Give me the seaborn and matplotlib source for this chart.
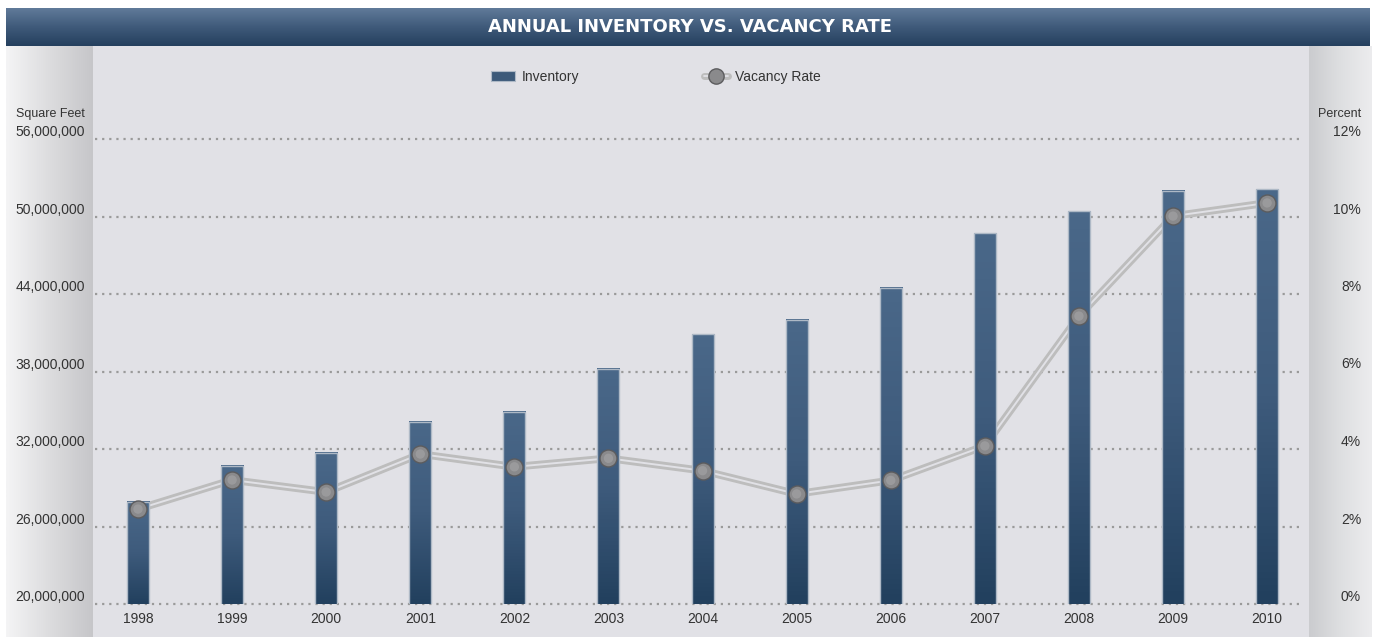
import numpy as np
import pandas as pd
import matplotlib
matplotlib.use('Agg')
import matplotlib.pyplot as plt
import matplotlib.transforms as mtransforms
from matplotlib.patches import Patch, Rectangle
from matplotlib.lines import Line2D
from matplotlib.colors import LinearSegmentedColormap
from matplotlib.legend_handler import HandlerTuple
import seaborn as sns

years = ['1998', '1999', '2000', '2001', '2002', '2003', '2004',
         '2005', '2006', '2007', '2008', '2009', '2010']
inventory = [27.9, 30.7, 31.7, 34.1, 34.9, 38.2, 40.9,
             42.0, 44.5, 48.7, 50.4, 52.0, 52.1]  # millions of sq ft
vacancy = [2.45, 3.2, 2.89, 3.87, 3.54, 3.76, 3.44,
           2.84, 3.19, 4.08, 7.43, 10.01, 10.35]  # percent

left_ticks = [20e6, 26e6, 32e6, 38e6, 44e6, 50e6, 56e6]
left_labels = ['20,000,000', '26,000,000', '32,000,000', '38,000,000',
               '44,000,000', '50,000,000', '56,000,000']
right_ticks = [0, 2, 4, 6, 8, 10, 12]
right_labels = ['0%', '2%', '4%', '6%', '8%', '10%', '12%']

df = pd.DataFrame({'Year': years,
                   'Inventory': np.array(inventory) * 1e6,
                   'Vacancy': vacancy})
df['pos'] = np.arange(len(df))

sns.set_theme(style='white')
plt.rcParams['font.family'] = ['Liberation Sans', 'DejaVu Sans']
txt = '#333333'
plot_bg = '#e1e1e6'
fs = 9.5

W, H = 1377, 637
fig = plt.figure(figsize=(W / 100, H / 100), dpi=100, facecolor='white')

# background panels drawn in pixel coords
bg = fig.add_axes([0, 0, 1, 1], zorder=-5)
bg.axis('off')
bg.add_patch(Rectangle((93, 46), 1216, H - 46, color=plot_bg, lw=0))
left_grad = LinearSegmentedColormap.from_list('lg', ['#f4f4f5', '#dcdcde', '#c6c6c9'])
bg.imshow(np.linspace(0, 1, 64)[None, :], cmap=left_grad, extent=(6, 94, H, 46), aspect='auto')
right_grad = LinearSegmentedColormap.from_list('rg', ['#cbcccf', '#dedfe1', '#ececee'])
bg.imshow(np.linspace(0, 1, 64)[None, :], cmap=right_grad, extent=(1309, 1372, H, 46), aspect='auto')
title_grad = LinearSegmentedColormap.from_list('tg', ['#607a99', '#3f5a7a', '#25405e'])
bg.imshow(np.linspace(0, 1, 64)[:, None], cmap=title_grad, extent=(6, 1370, 46, 8), aspect='auto')
bg.set_xlim(0, W)
bg.set_ylim(H, 0)

ax_l, ax_r = 95, 1301
ax_top, ax_bot = 139, 604
rect = [ax_l / W, 1 - ax_bot / H, (ax_r - ax_l) / W, (ax_bot - ax_top) / H]
xlo, xhi = -0.457, 12.36

# right scale axis: gridlines and vacancy line (behind bars)
ax2 = fig.add_axes(rect, zorder=1)
ax2.patch.set_visible(False)
ax2.hlines(right_ticks, xlo, xhi, colors='#9a9a9a', linestyles=(0, (1, 2.2)),
           lw=1.6, clip_on=False, zorder=1)
sns.lineplot(data=df, x='pos', y='Vacancy', ax=ax2, color='#bdbdbd', lw=5.5, zorder=2)
sns.lineplot(data=df, x='pos', y='Vacancy', ax=ax2, color=plot_bg, lw=1.4, zorder=3)

# bars on left scale
ax = fig.add_axes(rect, zorder=2)
ax.patch.set_visible(False)
sns.barplot(data=df, x='Year', y='Inventory', ax=ax, width=0.234,
            color='#3d5a7a', edgecolor='#aeb9c6', linewidth=1.0)
ax.set_ylim(20e6, 56e6)
bar_grad = LinearSegmentedColormap.from_list('bg', ['#4a6889', '#3e5b7c', '#22405e'])
for p in ax.patches:
    x0 = p.get_x()
    w, top = p.get_width(), p.get_y() + p.get_height()
    im = ax.imshow(np.linspace(0, 1, 64)[:, None], cmap=bar_grad,
                   extent=(x0, x0 + w, 20e6, top), aspect='auto', zorder=2.5)
    im.set_clip_path(p)
    im.set_clip_box(ax.bbox)
    p.set_facecolor('none')
    p.set_zorder(3)

# markers on top of bars
ax3 = fig.add_axes(rect, zorder=3)
ax3.patch.set_visible(False)
sns.scatterplot(data=df, x='pos', y='Vacancy', ax=ax3, s=150, color='#8a8a8c',
                edgecolor='#5c5c5e', linewidth=1.0, zorder=4)
sns.scatterplot(data=df, x='pos', y='Vacancy', ax=ax3, s=45, color='#a6a6a8',
                edgecolor='none', linewidth=0, zorder=5, alpha=0.6)

for a in (ax, ax2, ax3):
    a.set_xlim(xlo, xhi)
    for s in a.spines.values():
        s.set_visible(False)
    a.set_xlabel('')
    a.set_ylabel('')
ax.set_ylim(20e6, 56e6)
ax2.set_ylim(0, 12)
ax3.set_ylim(0, 12)

for a in (ax, ax2, ax3):
    a.set_yticks([])
ax2.set_xticks([])
ax3.set_xticks([])
ax.set_xticks(range(len(years)))
ax.set_xticklabels(years)
ax.tick_params(axis='x', length=0, pad=6, labelsize=fs + 0.5, labelcolor=txt)

# y tick labels sitting just above the gridlines
lt = mtransforms.offset_copy(mtransforms.blended_transform_factory(fig.transFigure, ax.transData),
                             fig=fig, y=7, units='dots')
for v, lab in zip(left_ticks, left_labels):
    ax.text(85 / W, v, lab, transform=lt, ha='right', va='center', fontsize=fs + 0.5, color=txt)
rt = mtransforms.offset_copy(mtransforms.blended_transform_factory(fig.transFigure, ax2.transData),
                             fig=fig, y=7, units='dots')
for v, lab in zip(right_ticks, right_labels):
    ax2.text(1361 / W, v, lab, transform=rt, ha='right', va='center', fontsize=fs + 0.5, color=txt)

fig.text(85 / W, 1 - 114 / H, 'Square Feet', ha='right', va='center', fontsize=fs - 0.5, color=txt)
fig.text(1361 / W, 1 - 114 / H, 'Percent', ha='right', va='center', fontsize=fs - 0.5, color=txt)

fig.text(690 / W, 1 - 27 / H, 'ANNUAL INVENTORY VS. VACANCY RATE', ha='center', va='center',
         fontsize=13, fontweight='bold', color='white', family=['DejaVu Sans'])

inv_handle = Patch(facecolor='#3d5a7a', edgecolor='#aeb9c6', lw=0.8)
vac_handle = (Line2D([], [], color='#bdbdbd', lw=5),
              Line2D([], [], color=plot_bg, lw=1.3),
              Line2D([], [], ls='none', marker='o', markersize=11, markerfacecolor='#8a8a8c',
                     markeredgecolor='#5c5c5e', markeredgewidth=1.0))
fig.legend([inv_handle, vac_handle], ['Inventory', 'Vacancy Rate'], loc='center',
           bbox_to_anchor=(656 / W, 1 - 77 / H), ncol=2, frameon=False, fontsize=fs + 0.5,
           columnspacing=9.0, handlelength=1.7, handleheight=0.75, handletextpad=0.5,
           labelcolor=txt, handler_map={tuple: HandlerTuple(ndivide=1)})

fig.savefig('out.png', dpi=100, facecolor='white')
